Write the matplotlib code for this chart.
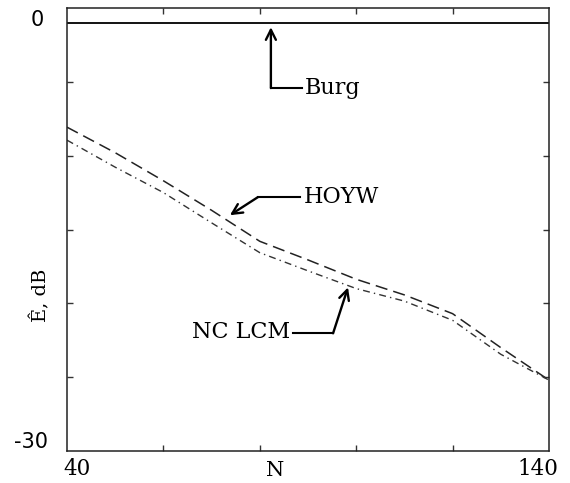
import matplotlib
matplotlib.use("Agg")
import matplotlib.pyplot as plt

# ---- data ----
N = [40, 50, 60, 70, 80, 90, 100, 110, 120, 130, 140]
hoyw = [-8.07, -9.8, -11.7, -13.7, -15.8, -17.06, -18.37, -19.43, -20.7, -23.0, -25.2]
nclcm = [-8.95, -10.78, -12.5, -14.55, -16.57, -17.8, -19.0, -19.85, -21.15, -23.45, -25.2]
burg_N = [40, 140]
burg = [-1.0, -1.0]

xticks_minor = [60, 80, 100, 120]
yticks_minor = [-5, -10, -15, -20, -25]

fig = plt.figure(figsize=(5.70, 4.83), dpi=100)
ax = fig.add_axes([67 / 570, 1 - 451 / 483, 482 / 570, 443 / 483])
ax.set_xlim(40, 140)
ax.set_ylim(-30, 0)

serif = ["DejaVu Serif"]

ax.plot(burg_N, burg, color="black", lw=1.3, solid_capstyle="butt")
ax.plot(N, hoyw, color="#222222", lw=1.1, linestyle=(0, (8, 4)))
ax.plot(N, nclcm, color="#333333", lw=1.0, linestyle=(0, (5, 3, 1, 3)))

for s in ax.spines.values():
    s.set_linewidth(1.1)
    s.set_color("#222222")

ax.set_xticks(xticks_minor)
ax.set_yticks(yticks_minor)
ax.tick_params(axis="both", direction="in", length=4, width=1, color="#333333",
               labelbottom=False, labelleft=False, top=True, right=True)

# tick labels as text
ax.text((37 - 67) / 482, 1 - 12 / 443, "0", transform=ax.transAxes, ha="center",
        va="center", fontsize=15, family="DejaVu Sans")
ax.text((31 - 67) / 482, 9 / 443, "-30", transform=ax.transAxes, ha="center",
        va="center", fontsize=15, family="DejaVu Sans")
ax.text((77 - 67) / 482, -0.04, "40", transform=ax.transAxes, ha="center", va="center",
        fontsize=15.5, family=serif)
ax.text((538 - 67) / 482, -0.04, "140", transform=ax.transAxes, ha="center",
        va="center", fontsize=15.5, family=serif)
ax.text((275 - 67) / 482, -0.043, "N", transform=ax.transAxes, ha="center", va="center",
        fontsize=15, family=serif)
ax.text((40 - 67) / 482, (451 - 295) / 443, "Ê, dB", transform=ax.transAxes,
        ha="center", va="center", rotation=90, fontsize=14, family=serif)

arrow = dict(arrowstyle="->", lw=1.7, color="black", mutation_scale=18,
             shrinkA=0, shrinkB=0)

# Burg
ax.text(89.4, -5.42, "Burg", ha="left", va="center", fontsize=16, family=serif)
ax.plot([88.8, 82.3], [-5.42, -5.42], color="black", lw=1.5)
ax.annotate("", xy=(82.3, -1.3), xytext=(82.3, -5.42), arrowprops=arrow)

# HOYW
ax.text(89.2, -12.81, "HOYW", ha="left", va="center", fontsize=16, family=serif)
ax.plot([88.3, 79.6], [-12.81, -12.81], color="black", lw=1.5)
ax.annotate("", xy=(73.8, -14.03), xytext=(79.6, -12.81), arrowprops=arrow)

# NC LCM
ax.text(86.3, -21.97, "NC LCM", ha="right", va="center", fontsize=16, family=serif)
ax.plot([86.9, 95.2], [-22.03, -22.03], color="black", lw=1.5)
ax.annotate("", xy=(98.3, -18.92), xytext=(95.2, -22.03), arrowprops=arrow)

fig.savefig("out.png", dpi=100)
